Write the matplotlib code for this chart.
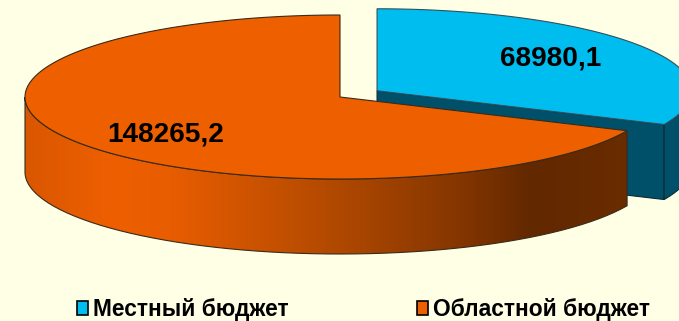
"""Объёмная круговая диаграмма: местный и областной бюджет."""
import matplotlib
matplotlib.use("Agg")
import matplotlib.pyplot as plt
from matplotlib.colors import LinearSegmentedColormap
from matplotlib.patches import Patch, PathPatch, Polygon
from matplotlib.path import Path
import numpy as np

categories = ["Местный бюджет", "Областной бюджет"]
values = [68980.1, 148265.2]
value_labels = ["68980,1", "148265,2"]

BG = "#FFFFE5"
BLUE = "#00BDF0"
TEAL = "#005069"
ORANGE = "#EE5F00"

# геометрия в пикселях картинки
CX, CY = 340, 97
RX, RY = 315, 82
DEPTH = 75
EXPLODE = 0.14

plt.rcParams.update({
    "font.family": ["Liberation Sans", "DejaVu Sans"],
    "font.weight": "bold",
})


def ellipse(cx, cy, t):
    return cx + RX * np.cos(t), cy - RY * np.sin(t)


def draw_blue(ax, t_end):
    mid = (t_end + np.pi / 2) / 2
    cx = CX + EXPLODE * RX * np.cos(mid)
    cy = CY - EXPLODE * RY * np.sin(mid)
    tip_x, tip_y = ellipse(cx, cy, t_end)

    # внутренняя грань разреза
    face = [(cx, cy), (tip_x, tip_y), (tip_x, tip_y + DEPTH), (cx, cy + DEPTH)]
    ax.add_patch(Polygon(face, fc=TEAL, ec="#0A2A35", lw=0.8, zorder=2))

    # внешняя боковая сторона
    t = np.linspace(t_end, 0, 30)
    x, y = ellipse(cx, cy, t)
    side = np.r_[np.c_[x, y], np.c_[x, y + DEPTH][::-1]]
    ax.add_patch(Polygon(side, fc=TEAL, ec="#0A2A35", lw=0.8, zorder=2))

    # верх
    t = np.linspace(t_end, np.pi / 2, 80)
    x, y = ellipse(cx, cy, t)
    top = np.r_[[(cx, cy)], np.c_[x, y]]
    ax.add_patch(Polygon(top, fc=BLUE, ec="#30505C", lw=0.8, zorder=3))
    return cx, cy


def draw_orange(ax, t_start, t_end):
    # боковая сторона с градиентом по x
    t = np.linspace(np.pi, t_end, 120)
    x, y = ellipse(CX, CY, t)
    side = np.r_[np.c_[x, y], np.c_[x, y + DEPTH][::-1]]
    cmap = LinearSegmentedColormap.from_list("side", [
        (0.00, "#D95700"), (0.14, "#EE5F00"), (0.24, "#E85D00"),
        (0.50, "#B44A00"), (0.72, "#853600"), (0.84, "#622800"),
        (1.00, "#6A2C00"),
    ])
    grad = np.linspace(0, 1, 256).reshape(1, -1)
    im = ax.imshow(grad, cmap=cmap, aspect="auto", zorder=4,
                   extent=(x.min(), x.max(), y.max() + DEPTH, y.min()))
    clip = PathPatch(Path(np.r_[side, side[:1]]), fc="none", ec="#3A2A1A",
                     lw=0.8, zorder=5)
    ax.add_patch(clip)
    im.set_clip_path(clip)

    # верх
    t = np.linspace(t_start, t_end, 200)
    x, y = ellipse(CX, CY, t)
    top = np.r_[[(CX, CY)], np.c_[x, y]]
    ax.add_patch(Polygon(top, fc=ORANGE, ec="#3A2A1A", lw=0.8, zorder=6))


def main():
    fig = plt.figure(figsize=(6.79, 3.21), dpi=100, facecolor=BG)
    ax = fig.add_axes([0, 0, 1, 1], facecolor=BG)

    # срез начинается сверху (90°), областной бюджет идёт против часовой
    share = values[1] / sum(values)
    t_start = np.pi / 2
    t_end = t_start + 2 * np.pi * share

    draw_blue(ax, t_end - 2 * np.pi)
    draw_orange(ax, t_start, t_end)

    ax.set_xlim(0, 679)
    ax.set_ylim(321, 0)
    ax.axis("off")

    ax.text(551, 59, value_labels[0], fontsize=20.2, ha="center", va="center",
            color="black", zorder=8)
    ax.text(166, 135, value_labels[1], fontsize=20.2, ha="center", va="center",
            color="black", zorder=8)

    handles = [Patch(fc=BLUE, ec="black", lw=1.2), Patch(fc=ORANGE, ec="black", lw=1.2)]
    ax.legend(handles, categories, ncol=2, frameon=False, fontsize=16.4,
              loc="center", bbox_to_anchor=(363.5 / 679, 1 - 309.5 / 321),
              handlelength=0.52, handleheight=0.52, handletextpad=0.22,
              columnspacing=5.6, borderpad=0, labelcolor="black")

    fig.savefig("out.png", dpi=100, facecolor=BG)
    plt.close(fig)


if __name__ == "__main__":
    main()
